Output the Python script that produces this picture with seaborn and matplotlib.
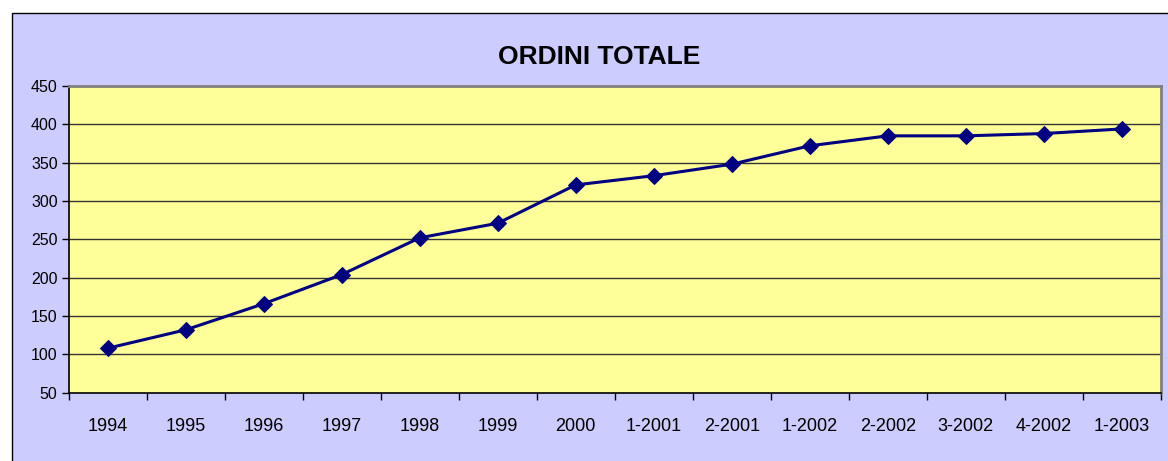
import numpy as np
import pandas as pd
import seaborn as sns
import matplotlib.pyplot as plt
from matplotlib.patches import Rectangle

# chart values
periods = ['1994', '1995', '1996', '1997', '1998', '1999', '2000',
           '1-2001', '2-2001', '1-2002', '2-2002', '3-2002', '4-2002', '1-2003']
orders = [108, 132, 166, 204, 252, 271, 321, 333, 348, 372, 385, 385, 388, 394]
y_ticks = [50, 100, 150, 200, 250, 300, 350, 400, 450]

chart_bg = '#CCCCFF'
plot_bg = '#FFFF99'
line_color = '#000080'

sns.set_style('white')
plt.rcParams['font.family'] = ['Liberation Sans', 'DejaVu Sans']
plt.rcParams['text.color'] = 'black'
plt.rcParams['xtick.color'] = 'black'
plt.rcParams['ytick.color'] = 'black'

df = pd.DataFrame({'periodo': periods, 'ordini': orders})

fig = plt.figure(figsize=(11.68, 4.61), dpi=100)
fig.patch.set_facecolor('white')

# outer chart area (clipped at right / bottom like in the original)
W, H = 1168, 461
fig.patches.append(Rectangle((12 / W, -0.1), 1.2, (H - 13) / H + 0.1,
                             transform=fig.transFigure, facecolor=chart_bg,
                             edgecolor='black', linewidth=1, zorder=-1))

ax = fig.add_axes([68.7 / W, (H - 392.7) / H, 1092 / W, 306.7 / H])
ax.set_facecolor(plot_bg)

x = np.arange(len(periods))
sns.lineplot(x=x, y=df['ordini'], ax=ax, color=line_color, linewidth=2.2,
             marker='D', markersize=8.5, markeredgecolor=line_color,
             sort=False, zorder=3)

ax.set_xlim(-0.5, len(periods) - 0.5)
ax.set_ylim(50, 450)
ax.set_yticks(y_ticks)
for v in y_ticks[1:-1]:
    ax.axhline(v, color='#333333', linewidth=1, zorder=1)

ax.set_xticks(x)
ax.set_xticklabels(periods)
ax.set_xticks(np.arange(-0.5, len(periods)), minor=True)
ax.tick_params(axis='x', which='major', length=0, pad=18, labelsize=13)
ax.tick_params(axis='x', which='minor', length=5, width=1, color='black',
               direction='out', bottom=True)
ax.tick_params(axis='y', length=5, width=1, color='black', direction='out',
               left=True, labelsize=11.5, pad=3)

for side in ['left', 'bottom']:
    ax.spines[side].set_color('black')
    ax.spines[side].set_linewidth(1.2)
for side in ['top', 'right']:
    ax.spines[side].set_color('#808080')
    ax.spines[side].set_linewidth(2)

ax.set_xlabel('')
ax.set_ylabel('')

fig.text(599 / W, 1 - 57 / H, 'ORDINI TOTALE', ha='center', va='center',
         fontsize=19, fontweight='bold', color='black')

fig.savefig('out.png', dpi=100, facecolor=fig.get_facecolor())
